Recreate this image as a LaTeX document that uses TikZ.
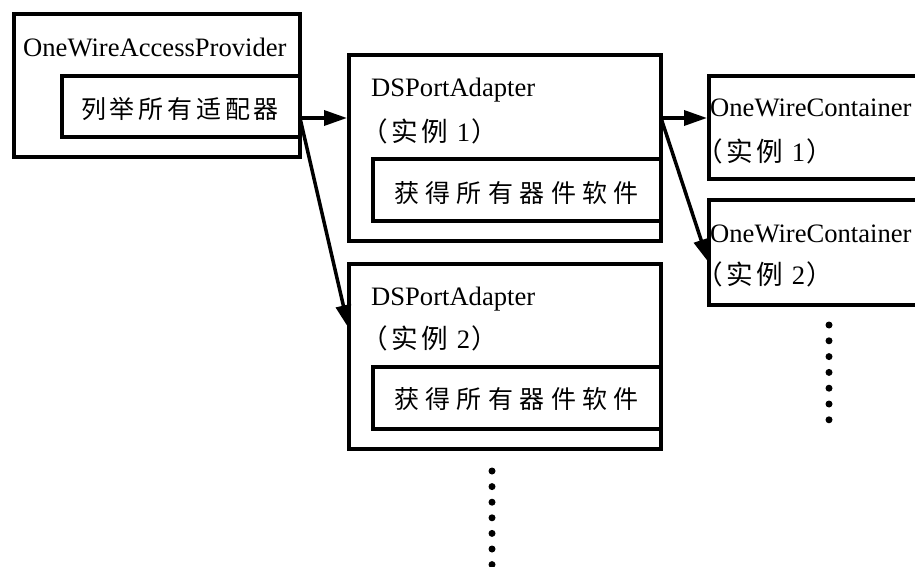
\documentclass[tikz,border=0pt]{standalone}
\usepackage{fontspec}
\setmainfont{Liberation Serif}
\newfontfamily\cjk{Noto Sans CJK SC}
\usetikzlibrary{arrows.meta}
% fixed-pitch setting of single CJK characters
\newlength\cjkpitch
\setlength\cjkpitch{30pt}
\newcommand\cb[1]{\makebox[\cjkpitch][c]{#1}}
% "（实例 n）" caption line
\newcommand\inst[1]{{\cjk\cb{（}\cb{实}\cb{例}} #1{\cjk\cb{）}}}

\begin{document}
\begin{tikzpicture}[x=1pt,y=-1pt,
  box/.style={draw, line width=4pt, inner sep=0pt, outer sep=0pt, anchor=north west},
  lbl/.style={inner sep=0pt, anchor=base west, font=\fontsize{26.6}{30}\selectfont},
  zh/.style={inner sep=0pt, anchor=base, font=\cjk\fontsize{25}{30}\selectfont},
  arr/.style={line width=3.5pt, shorten >=2pt, -{Triangle[length=23pt,width=15pt]}},
  dot/.style={circle, fill, inner sep=0pt, minimum size=7pt}
]
\useasboundingbox (0,0) rectangle (915,567);
\clip (0,0) rectangle (915,567);

% provider box
\node[box, minimum width=286pt, minimum height=143pt] (prov) at (14,14) {};
\node[box, minimum width=238pt, minimum height=61pt] (provIn) at (62,76) {};
\node[lbl] (provT) at (23,57) {OneWireAccessProvider};
\node[zh] (provZ) at (180,118) {\setlength\cjkpitch{28.8pt}\cb{列}\cb{举}\cb{所}\cb{有}\cb{适}\cb{配}\cb{器}};

% adapter 1
\node[box, minimum width=312pt, minimum height=186pt] (ad1) at (349,55) {};
\node[box, minimum width=288pt, minimum height=62pt] (ad1In) at (373,159) {};
\node[lbl] (ad1T) at (371,97) {DSPortAdapter};
\node[lbl] (ad1N) at (360,142) {\inst{1}};
\node[zh] (ad1Z) at (516.5,202) {\setlength\cjkpitch{31.4pt}\cb{获}\cb{得}\cb{所}\cb{有}\cb{器}\cb{件}\cb{软}\cb{件}};

% adapter 2
\node[box, minimum width=312pt, minimum height=185pt] (ad2) at (349,264) {};
\node[box, minimum width=288pt, minimum height=62pt] (ad2In) at (373,367) {};
\node[lbl] (ad2T) at (371,305) {DSPortAdapter};
\node[lbl] (ad2N) at (360,348) {\inst{2}};
\node[zh] (ad2Z) at (516.5,408.5) {\setlength\cjkpitch{31.4pt}\cb{获}\cb{得}\cb{所}\cb{有}\cb{器}\cb{件}\cb{软}\cb{件}};

% containers
\node[box, minimum width=230pt, minimum height=103pt] (c1) at (709,76) {};
\node[lbl] (c1T) at (710,117) {OneWireContainer};
\node[lbl] (c1N) at (695,161) {\inst{1}};
\node[box, minimum width=230pt, minimum height=105pt] (c2) at (709,200) {};
\node[lbl] (c2T) at (710,242) {OneWireContainer};
\node[lbl] (c2N) at (695,284) {\inst{2}};

% connectors
\coordinate (s1) at (300,118);
\coordinate (t2) at (349,330);
\coordinate (s2) at (661,118);
\coordinate (t4) at (709,264);
\draw[arr] (s1) -- (s1 -| ad1.west);
\draw[arr] (s1) -- (t2);
\draw[arr] (s2) -- (s2 -| c1.west);
\draw[arr] (s2) -- (t4);

% continuation dots
\foreach \k in {0,...,6} {
  \node[dot] (da\k) at (492,471+15.6*\k) {};
  \node[dot] (db\k) at (829,325+15.8*\k) {};
}
\end{tikzpicture}
\end{document}
